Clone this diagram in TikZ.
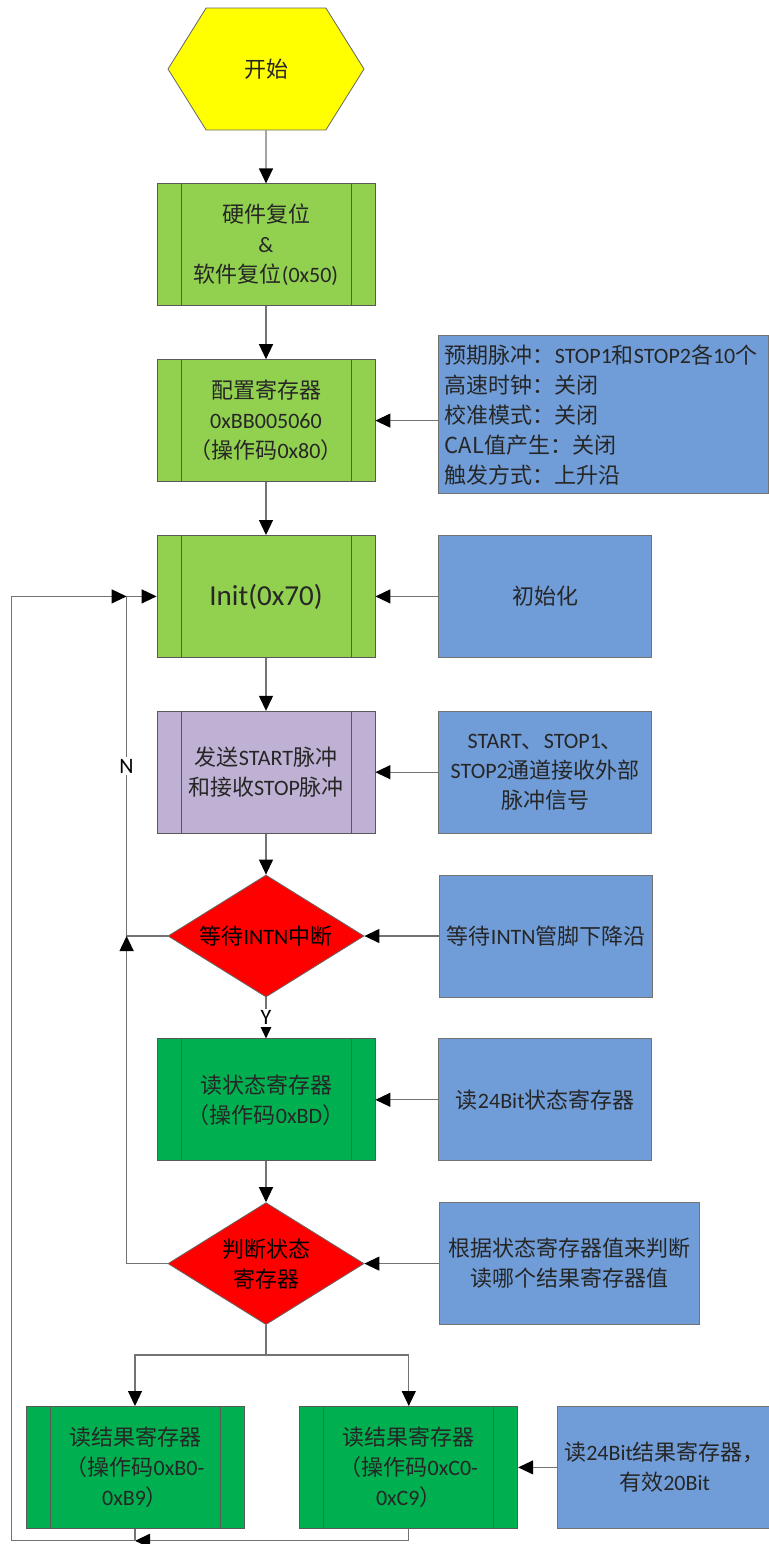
\documentclass[tikz,border=0pt]{standalone}
\usepackage{fontspec}
\setmainfont{Carlito}
\newfontfamily\cjkfont{Noto Sans CJK SC}
\newfontfamily\latinfont{Carlito}
% switch to the CJK font for Chinese characters
\XeTeXinterchartokenstate=1
\newXeTeXintercharclass\cjkclass
\newcount\cjkcode
\newcommand\setcjkrange[2]{\cjkcode=#1\relax
  \loop\XeTeXcharclass\cjkcode=\cjkclass
  \ifnum\cjkcode<#2\advance\cjkcode by 1\repeat}
\setcjkrange{"3000}{"303F}
\setcjkrange{"4E00}{"9FFF}
\setcjkrange{"FF00}{"FFEF}
\XeTeXinterchartoks 0 \cjkclass = {\cjkfont}
\XeTeXinterchartoks 4095 \cjkclass = {\cjkfont}
\XeTeXinterchartoks \cjkclass 0 = {\latinfont}
\usepackage{tikz}
\usetikzlibrary{shapes.geometric, shapes.symbols, arrows.meta, positioning}
\definecolor{startyellow}{RGB}{255,255,0}
\definecolor{lightgreen}{RGB}{146,208,80}
\definecolor{darkgreen}{RGB}{0,176,80}
\definecolor{sendpurple}{RGB}{191,177,211}
\definecolor{noteblue}{RGB}{112,157,216}

\begin{document}
\begin{tikzpicture}[
  node distance=26.5pt and 31.5pt,
  font=\fontsize{11}{15}\selectfont,
  startbox/.style={signal, signal to=west and east, signal pointer angle=116,
                   draw=black!60, fill=startyellow, minimum width=98pt,
                   minimum height=61pt, text=black!85},
  proc/.style={rectangle, draw=black!65, minimum width=109pt,
               minimum height=61pt, align=center, text=black!85,
               path picture={
                 \draw[black!65]
                   ([xshift=12pt]path picture bounding box.north west) --
                   ([xshift=12pt]path picture bounding box.south west)
                   ([xshift=-12pt]path picture bounding box.north east) --
                   ([xshift=-12pt]path picture bounding box.south east);}},
  dec/.style={diamond, aspect=1.6, draw=black!60, fill=red, inner sep=0pt,
              minimum width=98pt, minimum height=61pt, align=center},
  note/.style={rectangle, draw=black!55, fill=noteblue, minimum width=106.5pt,
               minimum height=61pt, align=center, text=black!85},
  lbl/.style={fill=white, inner sep=1pt, text=black},
  line/.style={draw=black!55, line width=0.6pt},
  arr/.style={line, -{Triangle[length=7.5pt, width=7pt, color=black]}}
]
\useasboundingbox (0,0) rectangle (384pt,-772pt);

% ---- main column ----
\node[startbox] (start) at (133pt,-34.5pt) {开始};
\node[proc, fill=lightgreen, below=of start] (reset)
  {硬件复位\\\&\\软件复位(0x50)};
\node[proc, fill=lightgreen, below=of reset] (cfg)
  {配置寄存器\\0xBB005060\\（操作码0x80）};
\node[proc, fill=lightgreen, below=of cfg, font=\fontsize{14.5}{17}\selectfont]
  (init) {Init(0x70)};
\node[proc, fill=sendpurple, below=of init] (send)
  {发送START脉冲\\和接收STOP脉冲};
\node[dec, below=20.5pt of send] (wait) {等待INTN中断};
\node[proc, fill=darkgreen, below=20.5pt of wait] (rdst)
  {读状态寄存器\\（操作码0xBD）};
\node[dec, below=20.5pt of rdst] (judge) {判断状态\\寄存器};

% ---- result boxes ----
\node[proc, fill=darkgreen, below=40.5pt of judge, xshift=-65.5pt] (rdl)
  {读结果寄存器\\（操作码0xB0-\\0xB9）};
\node[proc, fill=darkgreen, right=27.5pt of rdl] (rdr)
  {读结果寄存器\\（操作码0xC0-\\0xC9）};

% ---- notes ----
\node[note, right=of cfg, yshift=3pt, minimum width=165pt, minimum height=79pt,
      align=left, text width=159pt, inner xsep=3pt] (ncfg)
  {预期脉冲：STOP1和STOP2各10个\\高速时钟：关闭\\校准模式：关闭\\CAL值产生：关闭\\触发方式：上升沿};
\node[note, right=of init] (ninit) {初始化};
\node[note, right=of send] (nsend) {START、STOP1、\\STOP2通道接收外部\\脉冲信号};
\node[note, right=37.5pt of wait] (nwait) {等待INTN管脚下降沿};
\node[note, right=of rdst] (nrdst) {读24Bit状态寄存器};
\node[note, right=37.5pt of judge, minimum width=130pt] (njudge)
  {根据状态寄存器值来判断\\读哪个结果寄存器值};
\node[note, right=19.5pt of rdr, minimum width=106pt] (nrdr)
  {读24Bit结果寄存器，\\有效20Bit};

% ---- flow ----
\draw[arr] (start) -- (reset);
\draw[arr] (reset) -- (cfg);
\draw[arr] (cfg) -- (init);
\draw[arr] (init) -- (send);
\draw[arr] (send) -- (wait);
\draw[arr] (wait) -- node[lbl] {Y} (rdst);
\draw[arr] (rdst) -- (judge);

\coordinate (sp) at ([yshift=-15pt]judge.south);
\draw[line] (judge) -- (sp);
\draw[arr] (sp) -| (rdl);
\draw[arr] (sp) -| (rdr);

% notes feed the steps
\draw[arr] (ncfg.west |- cfg) -- (cfg);
\draw[arr] (ninit) -- (init);
\draw[arr] (nsend) -- (send);
\draw[arr] (nwait) -- (wait);
\draw[arr] (nrdst) -- (rdst);
\draw[arr] (njudge) -- (judge);
\draw[arr] (nrdr) -- (rdr);

% ---- loops back to Init ----
\coordinate (nj) at ([xshift=-15pt]init.west);
\coordinate (bl) at ([yshift=-6pt]rdl.south);
\coordinate (lc) at ([xshift=-7pt]rdl.west |- bl);
\draw[arr] (wait.west) -| node[lbl, pos=0.75] {N} (nj) -- (init.west);
\draw[arr] (judge.west) -| (wait.west -| nj);
\draw[arr] (rdr.south) |- (bl);
\draw[arr] (rdl.south) |- (lc) |- (nj);

\end{tikzpicture}
\end{document}
